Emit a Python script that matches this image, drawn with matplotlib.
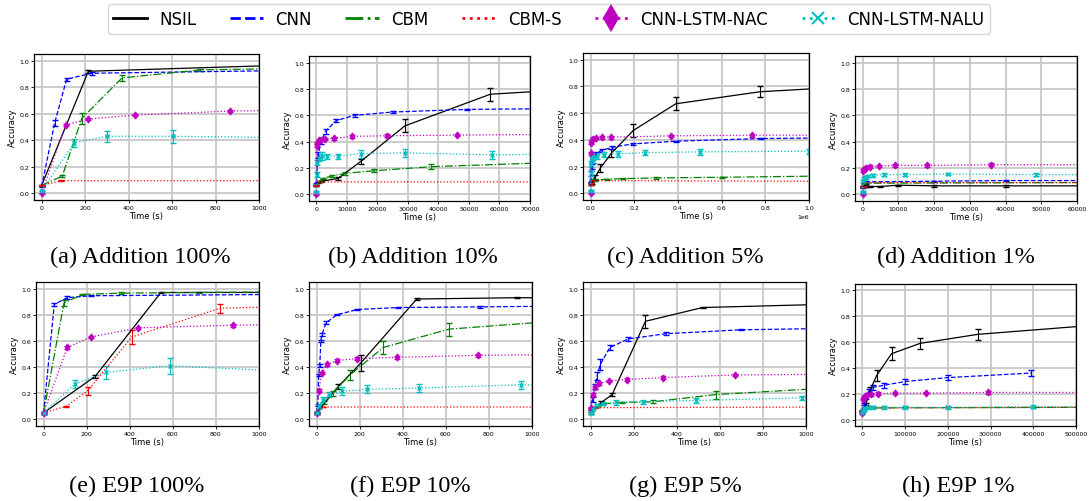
import matplotlib.pyplot as plt
from matplotlib.lines import Line2D

W, H = 1092, 502
names = ["NSIL", "CNN", "CBM", "CBM-S", "CNN-LSTM-NAC", "CNN-LSTM-NALU"]
styles = {
    "NSIL": dict(color="k", ls="-"),
    "CNN": dict(color="b", ls="--"),
    "CBM": dict(color="g", ls="-."),
    "CBM-S": dict(color="r", ls=":"),
    "CNN-LSTM-NAC": dict(color="m", ls=":", marker="d"),
    "CNN-LSTM-NALU": dict(color="c", ls=":", marker="x"),
}

# each panel: series -> (time, accuracy, error)
add100 = {
    "NSIL": ([0, 215, 1100], [0.06, 0.92, 0.965], [0.005, 0.01, 0.005]),
    "CNN": ([0, 60, 115, 230, 1100], [0.05, 0.53, 0.86, 0.905, 0.925], [0.005, 0.02, 0.01, 0.01, 0.005]),
    "CBM": ([0, 95, 185, 370, 730, 1100], [0.06, 0.13, 0.565, 0.87, 0.93, 0.94], [0.005, 0.01, 0.04, 0.02, 0.01, 0.005]),
    "CBM-S": ([0, 90, 1100], [0.06, 0.095, 0.095], [0.005, 0.003, 0.003]),
    "CNN-LSTM-NAC": ([0, 110, 215, 430, 865, 1100], [0.0, 0.515, 0.56, 0.59, 0.62, 0.625], [0.005, 0.01, 0.01, 0.01, 0.01, 0.01]),
    "CNN-LSTM-NALU": ([0, 150, 300, 605, 1100], [0.02, 0.38, 0.43, 0.43, 0.42], [0.005, 0.03, 0.04, 0.05, 0.01]),
}
add10 = {
    "NSIL": ([0, 400, 1500, 7000, 14500, 29000, 57000, 75000], [0.07, 0.09, 0.10, 0.12, 0.25, 0.52, 0.76, 0.785], [0.005, 0.005, 0.005, 0.01, 0.02, 0.05, 0.05, 0.01]),
    "CNN": ([0, 500, 1500, 3000, 6500, 12500, 25000, 49500, 75000], [0.08, 0.30, 0.40, 0.48, 0.56, 0.60, 0.625, 0.645, 0.65], [0.005, 0.02, 0.02, 0.02, 0.01, 0.01, 0.005, 0.005, 0.005]),
    "CBM": ([0, 1000, 2000, 5000, 9500, 19000, 37500, 75000], [0.07, 0.10, 0.12, 0.14, 0.16, 0.18, 0.21, 0.24], [0.005, 0.005, 0.005, 0.01, 0.01, 0.01, 0.02, 0.01]),
    "CBM-S": ([0, 500, 75000], [0.07, 0.095, 0.095], [0.005, 0.003, 0.003]),
    "CNN-LSTM-NAC": ([0, 100, 300, 700, 1400, 2900, 5800, 11500, 23000, 46000, 75000], [0.0, 0.37, 0.39, 0.41, 0.415, 0.42, 0.425, 0.44, 0.445, 0.45, 0.455], [0.005, 0.01, 0.01, 0.01, 0.01, 0.01, 0.01, 0.01, 0.01, 0.01, 0.01]),
    "CNN-LSTM-NALU": ([0, 100, 300, 700, 1800, 3600, 7200, 14500, 29000, 57500, 75000], [0.02, 0.15, 0.24, 0.28, 0.29, 0.29, 0.29, 0.31, 0.315, 0.30, 0.305], [0.005, 0.02, 0.02, 0.03, 0.03, 0.02, 0.02, 0.03, 0.03, 0.03, 0.01]),
}
add5 = {
    "NSIL": ([0, 5000, 20000, 45000, 95000, 195000, 390000, 775000, 1100000], [0.07, 0.08, 0.12, 0.19, 0.30, 0.47, 0.67, 0.76, 0.79], [0.005, 0.01, 0.02, 0.03, 0.03, 0.05, 0.05, 0.04, 0.01]),
    "CNN": ([0, 3000, 6000, 12000, 25000, 50000, 100000, 195000, 390000, 780000, 1100000], [0.08, 0.15, 0.20, 0.25, 0.30, 0.32, 0.345, 0.37, 0.39, 0.41, 0.415], [0.005, 0.02, 0.02, 0.02, 0.01, 0.01, 0.01, 0.01, 0.005, 0.005, 0.005]),
    "CBM": ([0, 5000, 20000, 75000, 150000, 300000, 600000, 1100000], [0.07, 0.10, 0.10, 0.105, 0.11, 0.115, 0.12, 0.13], [0.005, 0.005, 0.005, 0.005, 0.005, 0.005, 0.005, 0.005]),
    "CBM-S": ([0, 5000, 1100000], [0.07, 0.095, 0.09], [0.005, 0.003, 0.003]),
    "CNN-LSTM-NAC": ([0, 1000, 2000, 5000, 10000, 25000, 50000, 95000, 370000, 740000, 1100000], [0.0, 0.30, 0.38, 0.40, 0.41, 0.415, 0.42, 0.42, 0.43, 0.435, 0.435], [0.005, 0.01, 0.01, 0.01, 0.01, 0.01, 0.01, 0.01, 0.01, 0.01, 0.01]),
    "CNN-LSTM-NALU": ([0, 1000, 3000, 6000, 12000, 30000, 60000, 125000, 250000, 500000, 1000000, 1100000], [0.02, 0.15, 0.22, 0.25, 0.27, 0.28, 0.29, 0.295, 0.305, 0.31, 0.315, 0.315], [0.005, 0.02, 0.02, 0.02, 0.02, 0.02, 0.02, 0.02, 0.02, 0.02, 0.02, 0.01]),
}
add1 = {
    "NSIL": ([0, 1000, 2000, 5000, 10000, 20000, 40000, 65000], [0.06, 0.07, 0.06, 0.06, 0.07, 0.065, 0.065, 0.065], [0.005, 0.01, 0.005, 0.005, 0.005, 0.005, 0.005, 0.005]),
    "CNN": ([0, 500, 1000, 20000, 40000, 65000], [0.05, 0.09, 0.095, 0.10, 0.105, 0.105], [0.005, 0.005, 0.005, 0.005, 0.005, 0.005]),
    "CBM": ([0, 500, 65000], [0.06, 0.085, 0.09], [0.005, 0.003, 0.003]),
    "CBM-S": ([0, 500, 65000], [0.06, 0.09, 0.09], [0.005, 0.003, 0.003]),
    "CNN-LSTM-NAC": ([0, 200, 500, 1000, 2200, 4500, 9000, 18000, 36000, 65000], [0.0, 0.18, 0.19, 0.20, 0.21, 0.215, 0.22, 0.22, 0.225, 0.225], [0.005, 0.01, 0.01, 0.01, 0.01, 0.01, 0.01, 0.01, 0.01, 0.01]),
    "CNN-LSTM-NALU": ([0, 200, 500, 1000, 1500, 3000, 6000, 12000, 24000, 48500, 65000], [0.02, 0.10, 0.12, 0.13, 0.14, 0.145, 0.15, 0.15, 0.155, 0.15, 0.15], [0.005, 0.01, 0.01, 0.01, 0.01, 0.01, 0.01, 0.01, 0.01, 0.01, 0.01]),
}
e9p100 = {
    "NSIL": ([0, 240, 545, 1100], [0.05, 0.33, 0.97, 0.97], [0.005, 0.01, 0.005, 0.005]),
    "CNN": ([0, 50, 110, 220, 1100], [0.05, 0.88, 0.93, 0.945, 0.955], [0.005, 0.01, 0.01, 0.005, 0.005]),
    "CBM": ([0, 95, 180, 360, 720, 1100], [0.05, 0.89, 0.955, 0.965, 0.97, 0.975], [0.005, 0.02, 0.005, 0.005, 0.005, 0.005]),
    "CBM-S": ([0, 105, 205, 410, 820, 1100], [0.05, 0.10, 0.22, 0.63, 0.85, 0.86], [0.005, 0.005, 0.03, 0.05, 0.035, 0.01]),
    "CNN-LSTM-NAC": ([0, 110, 220, 440, 880, 1100], [0.05, 0.55, 0.63, 0.70, 0.72, 0.725], [0.005, 0.01, 0.01, 0.01, 0.01, 0.01]),
    "CNN-LSTM-NALU": ([0, 145, 290, 585, 1100], [0.05, 0.27, 0.36, 0.41, 0.37], [0.005, 0.03, 0.05, 0.06, 0.01]),
}
e9p10 = {
    "NSIL": ([0, 100, 205, 465, 930, 1100], [0.05, 0.25, 0.43, 0.92, 0.93, 0.93], [0.005, 0.02, 0.06, 0.005, 0.005, 0.005]),
    "CNN": ([0, 5, 10, 15, 20, 25, 45, 95, 190, 380, 760, 1100], [0.05, 0.11, 0.34, 0.41, 0.60, 0.65, 0.74, 0.80, 0.84, 0.855, 0.86, 0.865], [0.005, 0.01, 0.01, 0.01, 0.01, 0.01, 0.01, 0.005, 0.005, 0.005, 0.005, 0.005]),
    "CBM": ([0, 35, 75, 155, 310, 615, 1100], [0.05, 0.13, 0.20, 0.34, 0.55, 0.69, 0.75], [0.005, 0.01, 0.02, 0.04, 0.05, 0.05, 0.01]),
    "CBM-S": ([0, 30, 1100], [0.05, 0.095, 0.095], [0.005, 0.003, 0.003]),
    "CNN-LSTM-NAC": ([0, 10, 25, 50, 95, 190, 375, 750, 1100], [0.05, 0.22, 0.355, 0.42, 0.45, 0.465, 0.475, 0.49, 0.495], [0.005, 0.01, 0.01, 0.01, 0.01, 0.01, 0.01, 0.01, 0.01]),
    "CNN-LSTM-NALU": ([0, 10, 30, 60, 120, 235, 475, 950, 1100], [0.05, 0.10, 0.15, 0.19, 0.215, 0.23, 0.24, 0.265, 0.265], [0.005, 0.02, 0.02, 0.02, 0.03, 0.03, 0.03, 0.03, 0.01]),
}
e9p5 = {
    "NSIL": ([0, 30, 50, 100, 255, 520, 1100], [0.05, 0.10, 0.13, 0.19, 0.75, 0.855, 0.88], [0.005, 0.005, 0.01, 0.01, 0.05, 0.005, 0.005]),
    "CNN": ([0, 10, 20, 30, 45, 90, 175, 350, 700, 1100], [0.08, 0.15, 0.25, 0.33, 0.42, 0.55, 0.615, 0.655, 0.685, 0.695], [0.005, 0.02, 0.02, 0.03, 0.04, 0.02, 0.015, 0.01, 0.005, 0.005]),
    "CBM": ([0, 30, 60, 145, 290, 580, 1100], [0.08, 0.10, 0.12, 0.13, 0.135, 0.19, 0.24], [0.005, 0.005, 0.005, 0.005, 0.01, 0.03, 0.01]),
    "CBM-S": ([0, 20, 1100], [0.08, 0.09, 0.095], [0.005, 0.003, 0.003]),
    "CNN-LSTM-NAC": ([0, 10, 20, 40, 85, 170, 335, 670, 1100], [0.09, 0.19, 0.245, 0.275, 0.295, 0.305, 0.32, 0.34, 0.345], [0.005, 0.01, 0.01, 0.01, 0.01, 0.01, 0.01, 0.01, 0.01]),
    "CNN-LSTM-NALU": ([0, 10, 30, 60, 120, 245, 490, 980, 1100], [0.05, 0.08, 0.11, 0.12, 0.13, 0.135, 0.145, 0.165, 0.165], [0.005, 0.01, 0.01, 0.01, 0.02, 0.015, 0.02, 0.015, 0.01]),
}
e9p1 = {
    "NSIL": ([0, 8000, 17000, 33000, 68000, 135000, 270000, 540000], [0.06, 0.12, 0.22, 0.34, 0.51, 0.59, 0.66, 0.73], [0.005, 0.01, 0.03, 0.04, 0.05, 0.04, 0.04, 0.01]),
    "CNN": ([0, 4000, 8000, 15000, 25000, 50000, 100000, 200000, 395000], [0.06, 0.12, 0.17, 0.22, 0.25, 0.265, 0.295, 0.325, 0.36], [0.005, 0.01, 0.01, 0.02, 0.02, 0.02, 0.02, 0.02, 0.025]),
    "CBM": ([0, 5000, 540000], [0.07, 0.09, 0.095], [0.005, 0.003, 0.003]),
    "CBM-S": ([0, 3000, 540000], [0.06, 0.09, 0.095], [0.005, 0.003, 0.003]),
    "CNN-LSTM-NAC": ([0, 1000, 3000, 6000, 10000, 20000, 37000, 75000, 148000, 295000, 540000], [0.05, 0.16, 0.17, 0.18, 0.19, 0.195, 0.20, 0.205, 0.205, 0.21, 0.21], [0.005, 0.01, 0.01, 0.01, 0.01, 0.01, 0.01, 0.01, 0.01, 0.01, 0.01]),
    "CNN-LSTM-NALU": ([0, 1000, 3000, 6000, 12000, 25000, 50000, 100000, 200000, 400000, 540000], [0.05, 0.07, 0.08, 0.09, 0.095, 0.095, 0.095, 0.095, 0.095, 0.10, 0.10], [0.01, 0.01, 0.01, 0.01, 0.01, 0.01, 0.01, 0.01, 0.01, 0.01, 0.01]),
}

panels = [add100, add10, add5, add1, e9p100, e9p10, e9p5, e9p1]
captions = ["(a) Addition 100%", "(b) Addition 10%", "(c) Addition 5%", "(d) Addition 1%",
            "(e) E9P 100%", "(f) E9P 10%", "(g) E9P 5%", "(h) E9P 1%"]
xmax = [1000, 70000, 1000000, 60000, 1000, 1000, 1000, 500000]
# pixel boxes: left, right, top, bottom
boxes = [(34, 259, 55, 201), (309, 530, 57, 202), (583, 809, 54, 201), (855, 1077, 57, 202),
         (36, 259, 283, 427), (309, 532, 283, 427), (583, 806, 283, 427), (855, 1076, 285, 427)]
cap_xy = [(140, 257), (413, 257), (685, 257), (956, 257),
          (137, 486), (410, 486), (685, 486), (958, 486)]

fig = plt.figure(figsize=(W / 100, H / 100), dpi=100)

for data, cap, xm, (l, r, t, b), (cx, cy) in zip(panels, captions, xmax, boxes, cap_xy):
    ax = fig.add_axes([l / W, 1 - b / H, (r - l) / W, (b - t) / H])
    for name in names:
        x, y, e = data[name]
        st = styles[name]
        ax.errorbar(x, y, yerr=e, color=st["color"], ls=st["ls"], lw=0.9,
                    marker=st.get("marker", None), ms=3.5, capsize=2.5, elinewidth=0.8)
    ax.set_xlim(-0.035 * xm, xm)
    ax.set_ylim(-0.05, 1.05)
    ax.set_yticks([0, 0.2, 0.4, 0.6, 0.8, 1.0])
    ax.grid(True, color="#c8c8c8", lw=1.3)
    ax.set_axisbelow(True)
    ax.tick_params(labelsize=4.5, length=2, width=0.6, pad=1.5)
    ax.xaxis.get_offset_text().set_fontsize(4.5)
    ax.set_xlabel("Time (s)", fontsize=6, labelpad=1)
    ax.set_ylabel("Accuracy", fontsize=6, labelpad=2)
    for s in ax.spines.values():
        s.set_linewidth(0.9)
    fig.text(cx / W, 1 - cy / H, cap, ha="center", va="center", fontsize=17.5,
             family=["Liberation Serif", "DejaVu Serif"])

handles = []
for name in names:
    st = styles[name]
    mk = st.get("marker", None)
    handles.append(Line2D([], [], color=st["color"], ls=st["ls"], lw=2,
                          marker=mk, ms=12 if mk == "d" else 9, mew=1.5))
fig.legend(handles, names, loc="center", bbox_to_anchor=(549 / W, 1 - 20 / H), ncol=6,
           fontsize=12, handlelength=2.0, handletextpad=0.75, columnspacing=2.0,
           borderpad=0.35, frameon=True)

fig.savefig("out.png", dpi=100)
